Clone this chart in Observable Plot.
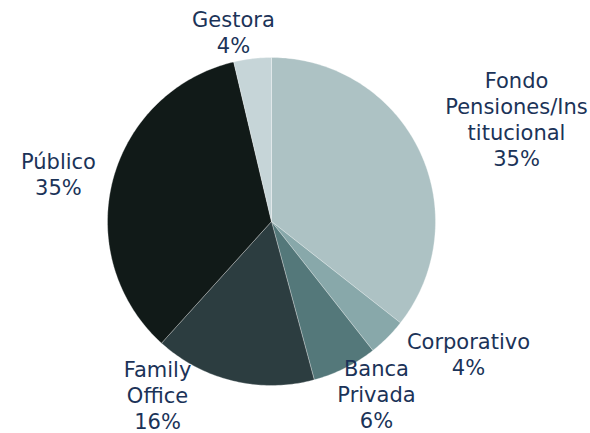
<!DOCTYPE html>
<html>
<head>
<meta charset="utf-8">
<script src="https://cdn.jsdelivr.net/npm/d3@7"></script>
<script src="https://cdn.jsdelivr.net/npm/@observablehq/plot@0.6"></script>
<style>
  html, body { margin: 0; padding: 0; background: #ffffff; }
  #chart { width: 590px; height: 433px; }
</style>
</head>
<body>
<div id="chart"></div>
<script>
// Data (clockwise from 12 o'clock); slice sizes
const categories = ["Fondo Pensiones/Institucional", "Corporativo", "Banca Privada", "Family Office", "Público", "Gestora"];
const values = [35.6, 3.8, 6.4, 15.9, 34.6, 3.7];
const labelNames = ["Fondo\nPensiones/Ins\ntitucional", "Corporativo", "Banca\nPrivada", "Family\nOffice", "Público", "Gestora"];
const labelPercents = ["35%", "4%", "6%", "16%", "35%", "4%"];

// Layout (label positions in units of pie radius, styles)
const labelPos = [[1.494, 0.628], [1.201, -0.805], [0.640, -1.052], [-0.695, -1.054], [-1.299, 0.293], [-0.232, 1.159]];
const colors = ["#adc2c4", "#88a8aa", "#54787a", "#2c3d40", "#111a18", "#c6d5d8"];

const total = d3.sum(values);
const slices = [];
let acc = 0;
categories.forEach((c, i) => {
  const a0 = acc / total * 2 * Math.PI;
  acc += values[i];
  const a1 = acc / total * 2 * Math.PI;
  const n = Math.max(4, Math.ceil((a1 - a0) / (Math.PI / 180)));
  slices.push({category: c, x: 0, y: 0});
  for (let k = 0; k <= n; k++) {
    const a = a0 + (a1 - a0) * k / n;
    slices.push({category: c, x: Math.sin(a), y: Math.cos(a)});
  }
  slices.push({category: c, x: 0, y: 0});
});

const labels = categories.map((c, i) => ({category: c, text: labelNames[i] + "\n" + labelPercents[i], x: labelPos[i][0], y: labelPos[i][1]}));

const chart = Plot.plot({
  width: 590,
  height: 433,
  margin: 0,
  style: {background: "#ffffff", fontFamily: "'DejaVu Sans', Verdana, sans-serif", overflow: "visible"},
  x: {domain: [-1, 1], range: [107, 435], axis: null},
  y: {domain: [-1, 1], range: [385, 57], axis: null},
  color: {domain: categories, range: colors},
  marks: [
    Plot.line(slices, {x: "x", y: "y", z: "category", fill: "category", stroke: "#ffffff", strokeWidth: 0.6, strokeOpacity: 0.5, curve: "linear"}),
    Plot.text(labels, {x: "x", y: "y", text: "text", fill: "#1b3358", fontSize: 21, lineHeight: 1.24, lineAnchor: "middle", textAnchor: "middle"})
  ]
});
document.getElementById("chart").appendChild(chart);
</script>
</body>
</html>
